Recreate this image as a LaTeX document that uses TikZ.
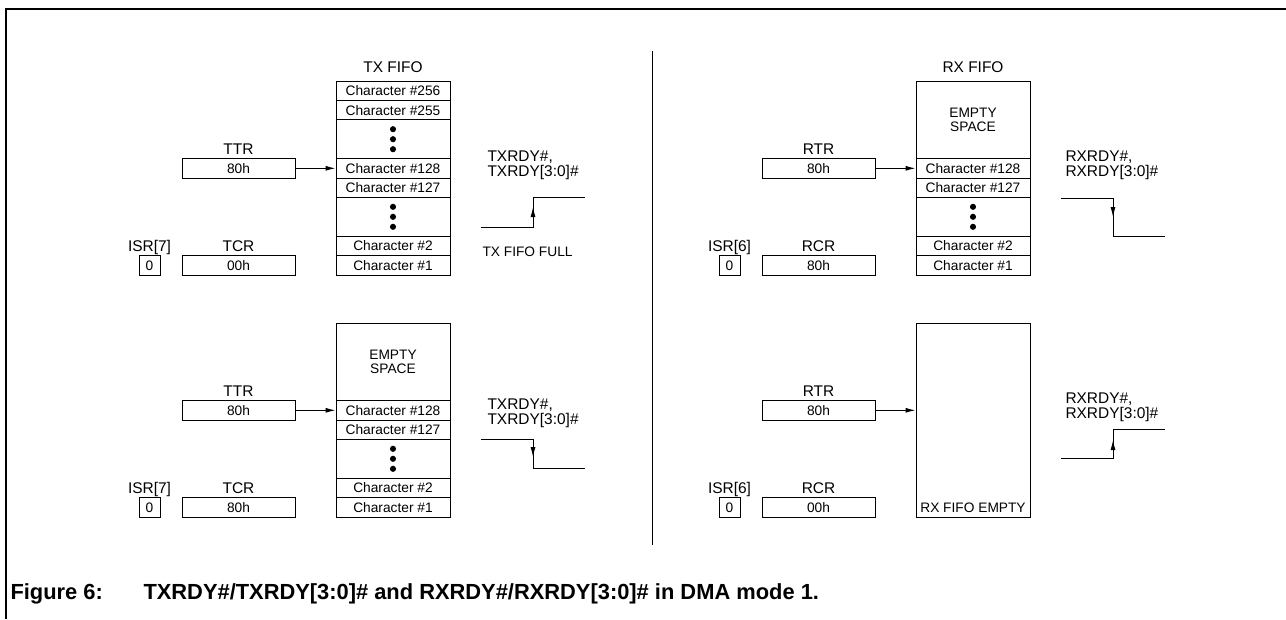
\documentclass[tikz,border=0pt]{standalone}
\usepackage{fontspec}
\setmainfont{Liberation Sans}
\usetikzlibrary{positioning,arrows.meta}

\begin{document}
\begin{tikzpicture}
	[x=0.75pt,y=-0.75pt,line width=0.75pt,
	%Styles
	cell/.style={draw,minimum width=85.5pt,minimum height=14.55pt,inner sep=0pt,font=\fontsize{10.3}{11}\selectfont},
	dotcell/.style={cell,minimum height=29.1pt},
	emptycell/.style={cell,minimum height=58.2pt,align=center,font=\fontsize{10.3}{10.5}\selectfont},
	reg/.style={draw,minimum width=84.75pt,minimum height=14.55pt,inner sep=0pt,font=\fontsize{10.3}{11}\selectfont},
	bitbox/.style={reg,minimum width=15.75pt},
	regname/.style={inner sep=0pt,text depth=0pt,font=\fontsize{11.6}{13}\selectfont},
	sig/.style={anchor=north west,inner sep=0pt,align=left,font=\fontsize{11.6}{11.3}\selectfont},
	note/.style={inner sep=0pt,font=\fontsize{10.3}{11}\selectfont},
	capt/.style={anchor=west,inner sep=0pt,font=\fontsize{16.4}{18}\selectfont\bfseries},
	ptr/.style={-{Latex[length=7.5pt,width=3.8pt]}}
	]

	%Frame
	\useasboundingbox (0,0) rectangle (1286,619);
	\draw[line width=1.5pt] (6.3,619) -- (6.3,9) -- (1286,9);
	\draw (652,51) -- (652,545);

	%TX FIFO full
	\node[cell] (ta256) at (393,90.7) {Character \#256};
	\node[cell] (ta255) at (393,110.1) {Character \#255};
	\node[dotcell] (tadu) at (393,139.2) {};
	\node[cell] (ta128) at (393,168.3) {Character \#128};
	\node[cell] (ta127) at (393,187.7) {Character \#127};
	\node[dotcell] (tadl) at (393,216.8) {};
	\node[cell] (ta2) at (393,245.9) {Character \#2};
	\node[cell] (ta1) at (393,265.3) {Character \#1};
	\node[regname,above=5.8pt of ta256] (tatitle) {TX FIFO};

	\node[reg] (tattr) at (238.5,168.3) {80h};
	\node[regname,above=2pt of tattr] (tattrname) {TTR};
	\node[reg] (tatcr) at (238.5,265.3) {00h};
	\node[regname,above=2pt of tatcr] (tatcrname) {TCR};
	\node[bitbox] (taisr) at (149.5,265.3) {0};
	\node[regname,above=2pt of taisr] (taisrname) {ISR[7]};
	\path[ptr] (tattr) edge (ta128);

	\node[sig] (tasig) at (487,150) {TXRDY\#,\\TXRDY[3:0]\#};
	\draw (481,227) -- (533,227) -- (533,197) -- (585,197);
	\draw[ptr] (533,227) -- (533,207);
	\node[note,anchor=west] (tafull) at (482,252) {TX FIFO FULL};

	%TX FIFO half empty
	\node[emptycell] (tbempty) at (393,361.8) {EMPTY\\SPACE};
	\node[cell] (tb128) at (393,410.3) {Character \#128};
	\node[cell] (tb127) at (393,429.7) {Character \#127};
	\node[dotcell] (tbd) at (393,458.8) {};
	\node[cell] (tb2) at (393,487.9) {Character \#2};
	\node[cell] (tb1) at (393,507.3) {Character \#1};

	\node[reg] (tbttr) at (238.5,410.3) {80h};
	\node[regname,above=2pt of tbttr] (tbttrname) {TTR};
	\node[reg] (tbtcr) at (238.5,507.3) {80h};
	\node[regname,above=2pt of tbtcr] (tbtcrname) {TCR};
	\node[bitbox] (tbisr) at (149.5,507.3) {0};
	\node[regname,above=2pt of tbisr] (tbisrname) {ISR[7]};
	\path[ptr] (tbttr) edge (tb128);

	\node[sig] (tbsig) at (487,398) {TXRDY\#,\\TXRDY[3:0]\#};
	\draw (481,439) -- (533,439) -- (533,468) -- (585,468);
	\draw[ptr] (533,439) -- (533,457);

	%RX FIFO half full
	\node[emptycell] (raempty) at (973,119.8) {EMPTY\\SPACE};
	\node[cell] (ra128) at (973,168.3) {Character \#128};
	\node[cell] (ra127) at (973,187.7) {Character \#127};
	\node[dotcell] (rad) at (973,216.8) {};
	\node[cell] (ra2) at (973,245.9) {Character \#2};
	\node[cell] (ra1) at (973,265.3) {Character \#1};
	\node[regname,above=5.8pt of raempty] (ratitle) {RX FIFO};

	\node[reg] (rartr) at (818.5,168.3) {80h};
	\node[regname,above=2pt of rartr] (rartrname) {RTR};
	\node[reg] (rarcr) at (818.5,265.3) {80h};
	\node[regname,above=2pt of rarcr] (rarcrname) {RCR};
	\node[bitbox] (raisr) at (729.5,265.3) {0};
	\node[regname,above=2pt of raisr] (raisrname) {ISR[6]};
	\path[ptr] (rartr) edge (ra128);

	\node[sig] (rasig) at (1065,150) {RXRDY\#,\\RXRDY[3:0]\#};
	\draw (1061,198) -- (1113,198) -- (1113,236) -- (1165,236);
	\draw[ptr] (1113,198) -- (1113,217);

	%RX FIFO empty
	\node[cell,minimum height=145.5pt] (rbfifo) at (973,420) {};
	\node[note] (rbempty) at (973,508) {RX FIFO EMPTY};

	\node[reg] (rbrtr) at (818.5,410.3) {80h};
	\node[regname,above=2pt of rbrtr] (rbrtrname) {RTR};
	\node[reg] (rbrcr) at (818.5,507.3) {00h};
	\node[regname,above=2pt of rbrcr] (rbrcrname) {RCR};
	\node[bitbox] (rbisr) at (729.5,507.3) {0};
	\node[regname,above=2pt of rbisr] (rbisrname) {ISR[6]};
	\path[ptr] (rbrtr) edge (rbrtr -| rbfifo.west);

	\node[sig] (rbsig) at (1065,392) {RXRDY\#,\\RXRDY[3:0]\#};
	\draw (1061,458) -- (1113,458) -- (1113,429) -- (1165,429);
	\draw[ptr] (1113,458) -- (1113,440);

	%Dots
	\foreach \n in {tadu,tadl,tbd,rad}
		\foreach \d in {-10,0,10}
			\fill (\n) ++(0,\d) circle (2.3pt);

	%Caption
	\node[capt] (capnum) at (10,594) {Figure 6:};
	\node[capt] (captext) at (143,594) {TXRDY\#/TXRDY[3:0]\# and RXRDY\#/RXRDY[3:0]\# in DMA mode 1.};
\end{tikzpicture}
\end{document}
